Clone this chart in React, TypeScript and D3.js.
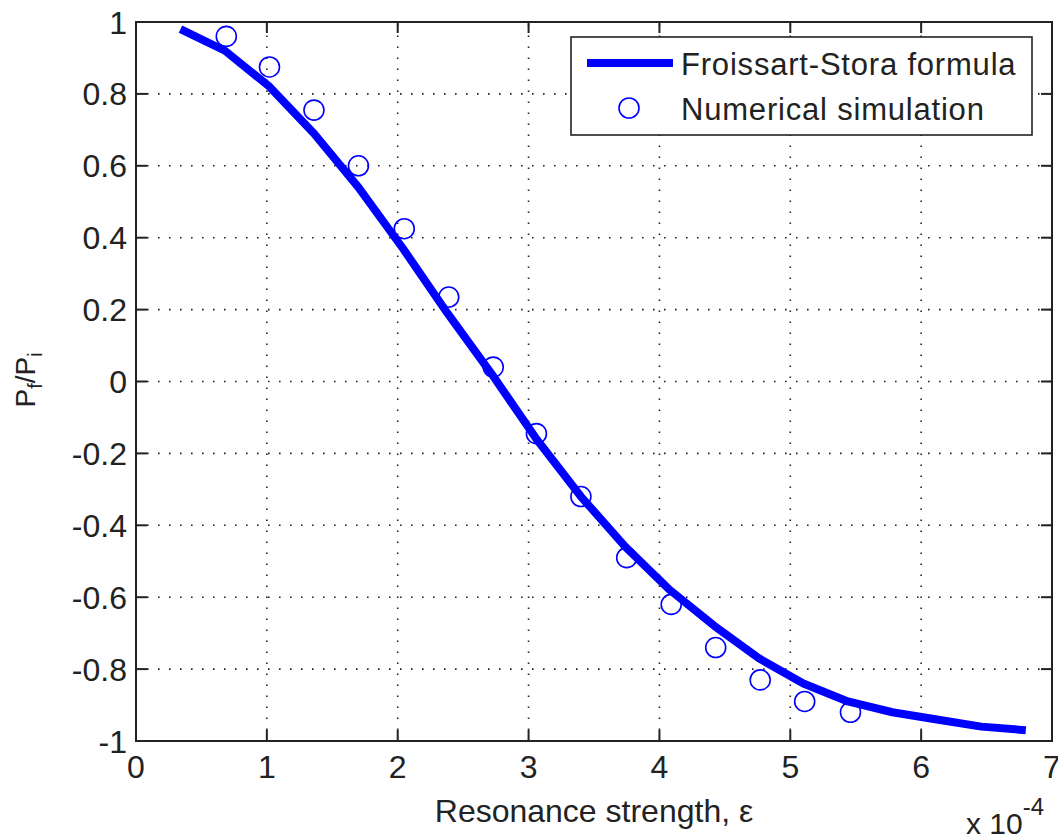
import React, { useRef, useEffect } from 'react';
import * as d3 from 'd3';

// Froissart-Stora formula curve (x in units of 1e-4)
const curveX = [0.34, 0.68, 1.02, 1.36, 1.7, 2.04, 2.38, 2.72, 3.06, 3.4, 3.74, 4.08, 4.42, 4.76, 5.1, 5.44, 5.78, 6.12, 6.46, 6.8];
const curveY = [0.98, 0.92, 0.82, 0.69, 0.54, 0.37, 0.19, 0.02, -0.16, -0.32, -0.46, -0.58, -0.68, -0.77, -0.84, -0.89, -0.92, -0.94, -0.96, -0.97];

// Numerical simulation points
const simX = [0.69, 1.02, 1.36, 1.7, 2.05, 2.39, 2.73, 3.06, 3.4, 3.75, 4.09, 4.43, 4.77, 5.11, 5.46];
const simY = [0.96, 0.875, 0.755, 0.6, 0.425, 0.235, 0.04, -0.145, -0.32, -0.49, -0.62, -0.74, -0.83, -0.89, -0.92];

const xTicks = [0, 1, 2, 3, 4, 5, 6, 7];
const yTicks = [-1, -0.8, -0.6, -0.4, -0.2, 0, 0.2, 0.4, 0.6, 0.8, 1];

const legendLabels = ['Froissart-Stora formula', 'Numerical simulation'];

const W = 1058;
const H = 839;
const FONT = '"Liberation Sans", Arial, Helvetica, sans-serif';
const BLUE = '#0000ff';

const Chart = () => {
  const ref = useRef<SVGSVGElement>(null);

  useEffect(() => {
    const svg = d3.select(ref.current);
    svg.selectAll('*').remove();
    const margin = { top: 22, right: 6, bottom: 98, left: 136 };
    const x = d3.scaleLinear().domain([0, 7]).range([margin.left, W - margin.right]);
    const y = d3.scaleLinear().domain([-1, 1]).range([H - margin.bottom, margin.top]);
    const [x0, x1] = x.range();
    const [y0, y1] = y.range();

    svg.append('rect').attr('width', W).attr('height', H).attr('fill', '#fff');

    // dotted grid
    const grid = svg.append('g').attr('stroke', '#222').attr('stroke-width', 1.6).attr('stroke-dasharray', '1.6,9.4');
    grid.selectAll('line.gx').data(xTicks.slice(1, -1)).join('line')
      .attr('x1', (d) => x(d)).attr('x2', (d) => x(d)).attr('y1', y0).attr('y2', y1);
    grid.selectAll('line.gy').data(yTicks.slice(1, -1)).join('line')
      .attr('class', 'gy')
      .attr('y1', (d) => y(d)).attr('y2', (d) => y(d)).attr('x1', x0).attr('x2', x1);

    // axes box with ticks on all sides
    const tl = 11;
    const axes = svg.append('g').attr('stroke', '#222').attr('stroke-width', 2);
    axes.append('rect').attr('x', x0).attr('y', y1).attr('width', x1 - x0).attr('height', y0 - y1).attr('fill', 'none');
    xTicks.forEach((t) => {
      axes.append('line').attr('x1', x(t)).attr('x2', x(t)).attr('y1', y0).attr('y2', y0 - tl);
      axes.append('line').attr('x1', x(t)).attr('x2', x(t)).attr('y1', y1).attr('y2', y1 + tl);
    });
    yTicks.forEach((t) => {
      axes.append('line').attr('y1', y(t)).attr('y2', y(t)).attr('x1', x0).attr('x2', x0 + tl);
      axes.append('line').attr('y1', y(t)).attr('y2', y(t)).attr('x1', x1).attr('x2', x1 - tl);
    });

    // tick labels
    const labels = svg.append('g').attr('font-family', FONT).attr('font-size', 32).attr('fill', '#222');
    labels.selectAll('text.xt').data(xTicks).join('text')
      .attr('class', 'xt')
      .attr('x', (d) => x(d)).attr('y', 778).attr('text-anchor', 'middle')
      .text((d) => String(d));
    labels.selectAll('text.yt').data(yTicks).join('text')
      .attr('class', 'yt')
      .attr('x', x0 - 9).attr('y', (d) => y(d) + 11.5).attr('text-anchor', 'end')
      .text((d) => String(d));

    // axis labels
    labels.append('text').attr('x', (x0 + x1) / 2).attr('y', 822).attr('text-anchor', 'middle')
      .text('Resonance strength, ε');
    const exp = labels.append('text').attr('x', 966).attr('y', 834).attr('font-size', 30);
    exp.append('tspan').text('x 10');
    exp.append('tspan').attr('dy', -19).attr('font-size', 24).text('-4');

    const yl = labels.append('text').attr('font-size', 28)
      .attr('transform', `translate(35,${(y0 + y1) / 2 + 26}) rotate(-90)`);
    yl.append('tspan').text('P');
    yl.append('tspan').attr('dy', 7).attr('font-size', 20).text('f');
    yl.append('tspan').attr('dy', -7).text('/P');
    yl.append('tspan').attr('dy', 7).attr('font-size', 20).text('i');

    // curve
    const line = d3.line<number>().x((d) => x(d)).y((_, i) => y(curveY[i]));
    svg.append('path').datum(curveX).attr('d', line).attr('fill', 'none')
      .attr('stroke', BLUE).attr('stroke-width', 8).attr('stroke-linejoin', 'round');

    // simulation circles
    svg.append('g').selectAll('circle').data(simX).join('circle')
      .attr('cx', (d) => x(d)).attr('cy', (_, i) => y(simY[i])).attr('r', 10)
      .attr('fill', 'none').attr('stroke', BLUE).attr('stroke-width', 1.6);

    // legend
    const lg = svg.append('g');
    lg.append('rect').attr('x', 571).attr('y', 37).attr('width', 461).attr('height', 98)
      .attr('fill', '#fff').attr('stroke', '#222').attr('stroke-width', 1.6);
    lg.append('line').attr('x1', 587).attr('x2', 673).attr('y1', 63).attr('y2', 63)
      .attr('stroke', BLUE).attr('stroke-width', 8);
    lg.append('circle').attr('cx', 629).attr('cy', 108).attr('r', 10)
      .attr('fill', 'none').attr('stroke', BLUE).attr('stroke-width', 1.6);
    lg.selectAll('text').data(legendLabels).join('text')
      .attr('x', 681).attr('y', (_, i) => 75 + i * 45)
      .attr('font-family', FONT).attr('font-size', 31).attr('letter-spacing', 0.8).attr('fill', '#222')
      .text((d) => d);
  }, []);

  return <svg ref={ref} width={W} height={H} style={{ position: 'absolute', left: 0, top: 0 }} />;
};

export default function App() {
  return <Chart />;
}
